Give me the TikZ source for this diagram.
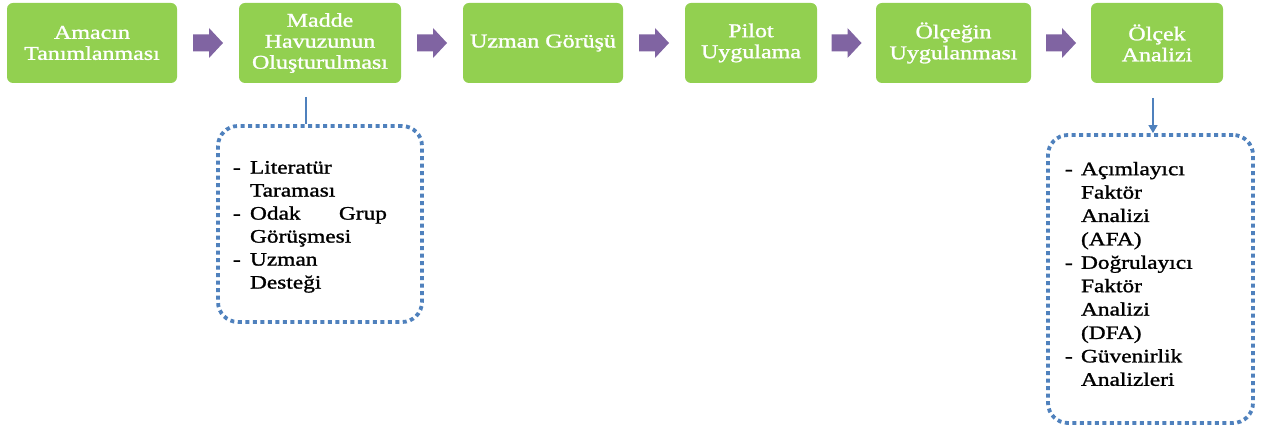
\documentclass[tikz,border=0pt]{standalone}
\usepackage{fontspec}
\setmainfont{Liberation Serif}[FakeStretch=1.23,FakeBold=1.3]
\usetikzlibrary{calc,arrows.meta}
\definecolor{stepgreen}{HTML}{92D050}
\definecolor{arrowpurple}{HTML}{8064A2}
\definecolor{dotblue}{HTML}{4F81BD}
\begin{document}
\begin{tikzpicture}[x=1pt,y=-1pt,
  stepbox/.style={fill=stepgreen, rounded corners=6pt, minimum height=80pt, inner sep=2pt,
    text=white, align=center, font=\fontsize{19.5}{21}\selectfont},
  dotbox/.style={draw=dotblue, line width=3.8pt, dash pattern=on 4pt off 3.5pt,
    rounded corners=20pt, inner ysep=0pt, text=black},
  link/.style={draw=dotblue, line width=1.3pt},
  blockarrow/.pic={\fill[arrowpurple] (-15,-8.5) -- (1,-8.5) -- (1,-15) -- (15,0) -- (1,15) -- (1,8.5) -- (-15,8.5) -- cycle;}
]
\fill[white] (0,0) rectangle (1277,427);
\useasboundingbox (0,0) rectangle (1277,427);

% steps
\node[stepbox, minimum width=170pt] (b1) at (92,43) {Amacın\\Tanımlanması};
\node[stepbox, minimum width=162pt] (b2) at (320,43) {Madde\\Havuzunun\\Oluşturulması};
\node[stepbox, minimum width=160pt] (b3) at (543,43) {Uzman Görüşü};
\node[stepbox, minimum width=132pt] (b4) at (751,43) {Pilot\\Uygulama};
\node[stepbox, minimum width=155pt] (b5) at (953.5,43) {Ölçeğin\\Uygulanması};
\node[stepbox, minimum width=132pt] (b6) at (1157,43) {Ölçek\\Analizi};

% block arrows between steps
\pic at ($(b1.east)!0.5!(b2.west)$) {blockarrow};
\pic at ($(b2.east)!0.5!(b3.west)$) {blockarrow};
\pic at ($(b3.east)!0.5!(b4.west)$) {blockarrow};
\pic at ($(b4.east)!0.5!(b5.west)$) {blockarrow};
\pic at ($(b5.east)!0.5!(b6.west)$) {blockarrow};

% detail boxes
\node[dotbox, inner xsep=15pt] (d1) at (320,224) {\parbox[c][196pt][t]{174pt}{\fontsize{19}{23}\selectfont
\vspace*{35pt}%
\makebox[17pt][l]{-}Literatür\\
\hspace*{17pt}Taraması\\
\makebox[17pt][l]{-}\hbox to 137pt{Odak\hfill Grup}\\
\hspace*{17pt}Görüşmesi\\
\makebox[17pt][l]{-}Uzman\\
\hspace*{17pt}Desteği}};

\node[dotbox, inner xsep=17pt] (d2) at (1150.5,279) {\parbox[c][288pt][t]{171pt}{\fontsize{19}{23.4}\selectfont
\vspace*{27pt}%
\makebox[16pt][l]{-}Açımlayıcı\\
\hspace*{16pt}Faktör\\
\hspace*{16pt}Analizi\\
\hspace*{16pt}(AFA)\\
\makebox[16pt][l]{-}Doğrulayıcı\\
\hspace*{16pt}Faktör\\
\hspace*{16pt}Analizi\\
\hspace*{16pt}(DFA)\\
\makebox[16pt][l]{-}Güvenirlik\\
\hspace*{16pt}Analizleri}};

% connectors
\coordinate (c1) at (306,97);
\draw[link] (c1) -- (c1 |- d1.north);
\coordinate (c2) at (1153,98);
\draw[link, -{Triangle[length=8pt,width=9pt]}] (c2) -- (c2 |- d2.north);
\end{tikzpicture}
\end{document}
